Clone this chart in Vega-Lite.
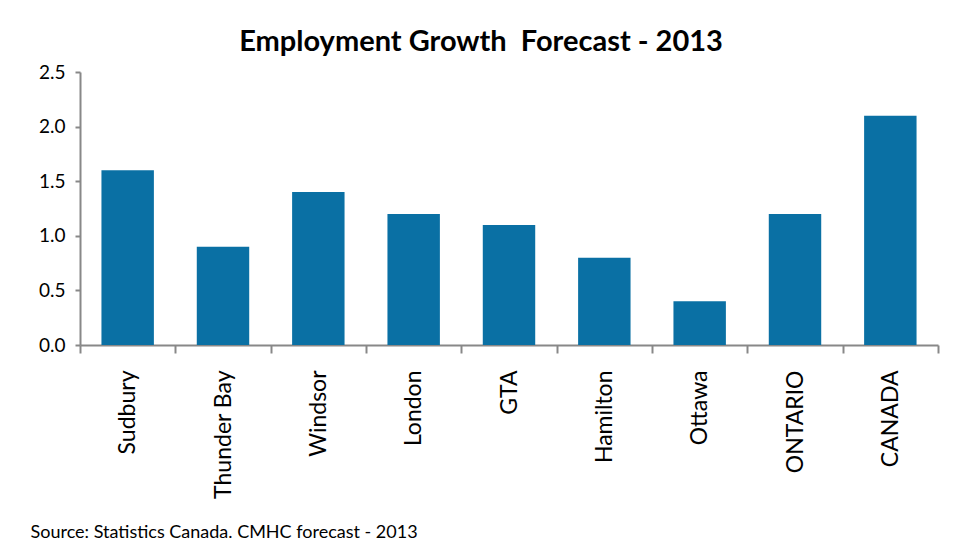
{
  "$schema": "https://vega.github.io/schema/vega-lite/v6.json",
  "width": 858,
  "height": 273,
  "autosize": {"type": "none"},
  "padding": {"left": 80, "top": 72, "right": 21, "bottom": 215},
  "background": "white",
  "title": {
    "text": "Employment Growth \u00a0Forecast - 2013",
    "font": "Lato",
    "fontSize": 29,
    "fontWeight": "bold",
    "color": "#000000",
    "anchor": "middle",
    "offset": 6,
    "dx": -28
  },
  "data": {
    "values": [
      {"region": "Sudbury", "growth": 1.6},
      {"region": "Thunder Bay", "growth": 0.9},
      {"region": "Windsor", "growth": 1.4},
      {"region": "London", "growth": 1.2},
      {"region": "GTA", "growth": 1.1},
      {"region": "Hamilton", "growth": 0.8},
      {"region": "Ottawa", "growth": 0.4},
      {"region": "ONTARIO", "growth": 1.2},
      {"region": "CANADA", "growth": 2.1}
    ]
  },
  "mark": {"type": "bar", "color": "#0a70a4", "width": {"band": 0.55}},
  "encoding": {
    "x": {
      "field": "region",
      "type": "nominal",
      "sort": null,
      "scale": {"paddingInner": 0, "paddingOuter": 0},
      "axis": {
        "title": "Source: Statistics Canada. CMHC forecast - 2013",
        "titleFont": "Lato",
        "titleFontSize": 18,
        "titleFontWeight": "normal",
        "titleColor": "#000000",
        "titleAnchor": "start",
        "titleAlign": "left",
        "titleBaseline": "alphabetic",
        "titleX": -50,
        "titleY": 192,
        "labelAngle": -90,
        "labelAlign": "right",
        "labelBaseline": "middle",
        "labelFont": "Lato",
        "labelFontSize": 23,
        "labelColor": "#000000",
        "labelPadding": 17,
        "tickBand": "extent",
        "tickSize": 8,
        "tickColor": "#888888",
        "tickWidth": 2,
        "domainColor": "#888888",
        "domainWidth": 2,
        "labelLimit": 300
      }
    },
    "y": {
      "field": "growth",
      "type": "quantitative",
      "scale": {"domain": [0, 2.5]},
      "axis": {
        "title": null,
        "values": [0, 0.5, 1, 1.5, 2, 2.5],
        "format": ".1f",
        "grid": false,
        "labelFont": "Lato",
        "labelFontSize": 19,
        "labelColor": "#000000",
        "labelPadding": 10,
        "tickSize": 5,
        "tickColor": "#888888",
        "tickWidth": 2,
        "domainColor": "#888888",
        "domainWidth": 2
      }
    }
  },
  "config": {"view": {"stroke": null}}
}
